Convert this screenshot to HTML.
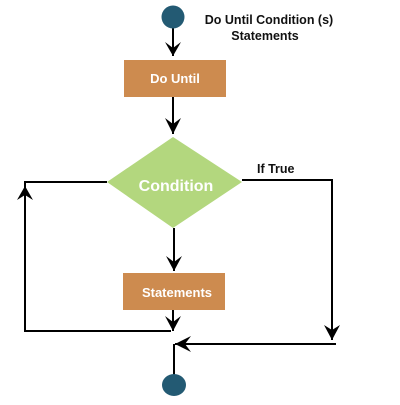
<!DOCTYPE html>
<html><head><style>body{margin:0;background:#fff}</style></head><body>
<svg width="400" height="400" xmlns="http://www.w3.org/2000/svg" font-family="Liberation Sans, sans-serif" font-weight="bold">
<g stroke="#000" stroke-width="2" fill="none">
<line x1="173" y1="28" x2="173" y2="56"/>
<path d="M165,42 L173,56 L181,42 L173,48z" fill="#000" stroke="none"/>
<line x1="173" y1="97" x2="173" y2="134"/>
<path d="M165,118 L173,134 L181,118 L173,124z" fill="#000" stroke="none"/>
<line x1="174" y1="228" x2="174" y2="271"/>
<path d="M166,256 L174,271 L182,256 L174,262z" fill="#000" stroke="none"/>
<line x1="173" y1="309" x2="173" y2="331"/>
<path d="M165,316 L173,331 L181,316 L173,322z" fill="#000" stroke="none"/>
<polyline points="107,182 25,182 25,331 171,331"/>
<path d="M17,200 L25,186 L33,200 L25,195z" fill="#000" stroke="none"/>
<polyline points="242,180 332,180 332,340"/>
<path d="M324,325 L332,340 L340,325 L332,330z" fill="#000" stroke="none"/>
<line x1="336" y1="344" x2="175" y2="344"/>
<path d="M191,336 L175,344 L191,352 L185,344z" fill="#000" stroke="none"/>
<line x1="174" y1="344" x2="174" y2="376"/>
</g>
<circle cx="173" cy="17" r="11.5" fill="#235a73"/>
<ellipse cx="174" cy="385" rx="12" ry="11" fill="#235a73"/>
<rect x="124" y="60" width="102" height="37" fill="#cd8b4f"/>
<rect x="123" y="273" width="102" height="37" fill="#cd8b4f"/>
<polygon points="173,137 242,182 173,228 107,182" fill="#b3d77e"/>
<text x="175" y="83" fill="#fff" font-size="13" text-anchor="middle">Do Until</text>
<text x="177" y="297" fill="#fff" font-size="13" text-anchor="middle">Statements</text>
<text x="176" y="191" fill="#fff" font-size="16" text-anchor="middle">Condition</text>
<text x="269" y="24" fill="#111" font-size="12.5" text-anchor="middle">Do Until Condition (s)</text>
<text x="265" y="40" fill="#111" font-size="12.5" text-anchor="middle">Statements</text>
<text x="257" y="173" fill="#111" font-size="12.5">If True</text>
</svg>
</body></html>
